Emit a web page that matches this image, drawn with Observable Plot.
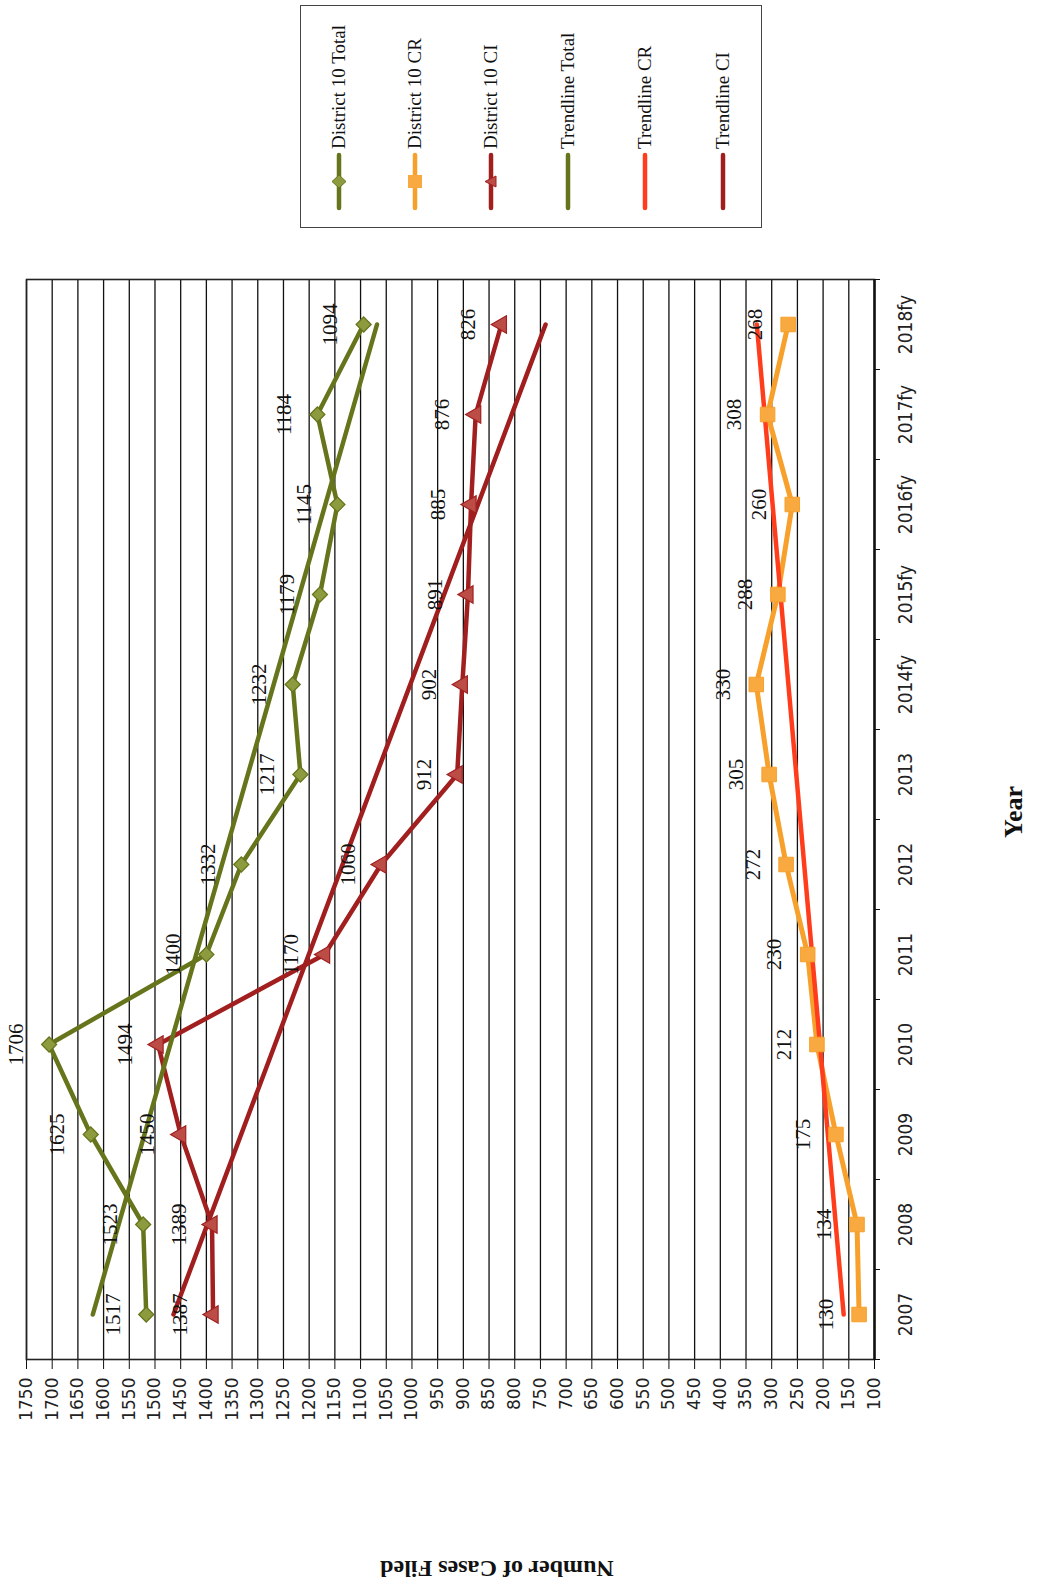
<!DOCTYPE html>
<html><head><meta charset="utf-8">
<script src="https://cdn.jsdelivr.net/npm/d3@7"></script>
<script src="https://cdn.jsdelivr.net/npm/@observablehq/plot@0.6"></script>
<style>
html,body{margin:0;padding:0;background:#fff;overflow:hidden;width:1037px;height:1587px;}
#page{position:absolute;left:0;top:0;width:1587px;height:1037px;transform-origin:0 0;transform:translate(0px,1587px) rotate(-90deg);background:#fff;}
#chart{position:absolute;left:0;top:0;}
.ttl{position:absolute;font-family:"Liberation Serif","Times New Roman",serif;font-weight:bold;color:#111;white-space:nowrap;transform:translate(-50%,-50%);}
#legend{position:absolute;left:1359px;top:300px;width:223px;height:462px;border:1.5px solid #444;box-sizing:border-box;background:#fff;}
.lrow{position:absolute;left:0;width:223px;height:30px;}
.lrow svg{position:absolute;left:10px;top:0;}
.lrow span{position:absolute;left:78px;top:3px;font-family:"Liberation Serif","Times New Roman",serif;font-size:19px;color:#111;white-space:nowrap;line-height:24px;}
</style></head>
<body>
<div id="page">
  <div id="chart"></div>
  <div class="ttl" style="left:19px;top:497px;font-size:24px;transform:translate(-50%,-50%) rotate(-90deg);">Number of Cases Filed</div>
  <div class="ttl" style="left:775px;top:1014px;font-size:26px;">Year</div>
  <div id="legend"></div>
</div>
<script>
// ---- data ----
const years = ["2007","2008","2009","2010","2011","2012","2013","2014fy","2015fy","2016fy","2017fy","2018fy"];
const total = [1517,1523,1625,1706,1400,1332,1217,1232,1179,1145,1184,1094];
const cr    = [130,134,175,212,230,272,305,330,288,260,308,268];
const ci    = [1387,1389,1450,1494,1170,1060,912,902,891,885,876,826];
// trendline end values (first and last year)
const trendTotal = [1621,1068];
const trendCR    = [160,329];
const trendCI    = [1464,740];
const yTicks = [100,150,200,250,300,350,400,450,500,550,600,650,700,750,800,850,900,950,1000,1050,1100,1150,1200,1250,1300,1350,1400,1450,1500,1550,1600,1650,1700,1750];
const seriesNames = ["District 10 Total","District 10 CR","District 10 CI","Trendline Total","Trendline CR","Trendline CI"];

const C = {
  total:"#66751c", totalFill:"#8d9b3e",
  cr:"#f7a02c", crFill:"#f8a93f",
  ci:"#a11f1f", ciFill:"#bb4c46",
  tTotal:"#66751c", tCR:"#ff3d1c", tCI:"#a01e1e"
};

const xIdx = years.map((d,i)=>i);
const xBounds = [-0.5,0.5,1.5,2.5,3.5,4.5,5.5,6.5,7.5,8.5,9.5,10.5,11.5];
const rows = arr => arr.map((v,i)=>({i, v}));
const trendRows = arr => [{i:0, v:arr[0]}, {i:years.length-1, v:arr[1]}];
const labels = [...rows(total), ...rows(cr), ...rows(ci)];

const chart = Plot.plot({
  width: 1587, height: 1037,
  marginLeft: 227, marginRight: 280, marginTop: 26, marginBottom: 163,
  x: {type: "linear", domain: [-0.5, 11.5]},
  y: {domain: [100, 1750]},
  style: {fontFamily: "DejaVu Sans, sans-serif", fontSize: "17px", background: "transparent", color: "#111", overflow: "visible"},
  marks: [
    Plot.gridY(yTicks, {stroke: "#111", strokeOpacity: 1, strokeWidth: 1.3}),
    Plot.frame({stroke: "#222", strokeWidth: 1.6}),
    Plot.axisY(yTicks, {tickSize: 9, tickPadding: 9, tickFormat: d => String(d), fontSize: 17, fontFamily: "DejaVu Sans, sans-serif", fill: "#222", label: null}),
    Plot.axisX(xIdx, {tickSize: 0, tickPadding: 24, tickFormat: i => years[i], fontSize: 19, fontFamily: "Liberation Sans Narrow, Arial Narrow, DejaVu Sans Condensed, sans-serif", fill: "#222", label: null}),
    Plot.axisX(xBounds, {tickSize: 6, tickFormat: () => "", label: null}),
    Plot.ruleY([100], {stroke: "#111", strokeWidth: 2.4}),
    Plot.line(rows(total), {x: "i", y: "v", stroke: C.total, strokeWidth: 4.5}),
    Plot.line(rows(cr), {x: "i", y: "v", stroke: C.cr, strokeWidth: 5}),
    Plot.line(rows(ci), {x: "i", y: "v", stroke: C.ci, strokeWidth: 4.5}),
    Plot.line(trendRows(trendTotal), {x: "i", y: "v", stroke: C.tTotal, strokeWidth: 4.5}),
    Plot.line(trendRows(trendCR), {x: "i", y: "v", stroke: C.tCR, strokeWidth: 4.5}),
    Plot.line(trendRows(trendCI), {x: "i", y: "v", stroke: C.tCI, strokeWidth: 4.5}),
    Plot.dot(rows(total), {x: "i", y: "v", symbol: "diamond2", r: 6.8, fill: C.totalFill, stroke: C.total, strokeWidth: 1.2}),
    Plot.dot(rows(cr), {x: "i", y: "v", symbol: "square", r: 8.2, fill: C.crFill, stroke: C.cr, strokeWidth: 1}),
    Plot.dot(rows(ci), {x: "i", y: "v", symbol: "triangle", r: 6.5, fill: C.ciFill, stroke: C.ci, strokeWidth: 1.2}),
    Plot.text(labels, {x: "i", y: "v", text: d => String(d.v), dy: -33, fontFamily: "Liberation Serif, Times New Roman, serif", fontSize: 21, fill: "#111"})
  ]
});
document.getElementById("chart").appendChild(chart);

// legend
const leg = document.getElementById("legend");
const rowCenters = [38,114,190,267,344,422];
const legStyle = [
  {c: C.total, m: "diamond", f: C.totalFill},
  {c: C.cr, m: "square", f: C.crFill},
  {c: C.ci, m: "triangle", f: C.ciFill},
  {c: C.tTotal}, {c: C.tCR}, {c: C.tCI}
];
seriesNames.forEach((name, k) => {
  const s = legStyle[k];
  const div = document.createElement("div");
  div.className = "lrow";
  div.style.top = (rowCenters[k] - 15) + "px";
  let marker = "";
  if (s.m === "diamond") marker = `<path d="M35.5,8 L42,15 L35.5,22 L29,15Z" fill="${s.f}" stroke="${s.c}" stroke-width="1"/>`;
  if (s.m === "square") marker = `<rect x="29" y="8" width="13" height="14" fill="${s.f}"/>`;
  if (s.m === "triangle") marker = `<path d="M35.5,9 L41,20 L30,20Z" fill="${s.f}" stroke="${s.c}" stroke-width="1"/>`;
  div.innerHTML = `<svg width="66" height="30"><line x1="9" y1="15" x2="62" y2="15" stroke="${s.c}" stroke-width="4.5" stroke-linecap="round"/>${marker}</svg><span>${name}</span>`;
  leg.appendChild(div);
});
</script>
</body></html>
